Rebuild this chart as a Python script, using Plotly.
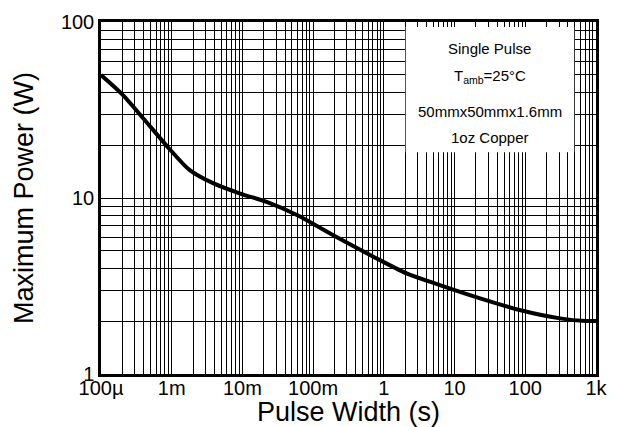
import plotly.graph_objects as go

# Data (pulse width in s, max power in W)
pulse_width = [1e-4, 2e-4, 4e-4, 8.5e-4, 1.8e-3, 3.9e-3, 9.3e-3, 2.2e-2,
               5.9e-2, 0.19, 0.71, 2.1, 6.2, 23, 83, 310, 720, 1000]
max_power = [50, 38.8, 28.2, 19.8, 14.4, 12.1, 10.6, 9.5,
             8.0, 6.16, 4.64, 3.73, 3.2, 2.69, 2.31, 2.07, 2.0, 2.0]

x_tickvals = [1e-4, 1e-3, 1e-2, 1e-1, 1, 10, 100, 1000]
x_ticktext = ["100µ", "1m", "10m", "100m", "1", "10", "100", "1k"]
y_tickvals = [1, 10, 100]
y_ticktext = ["1", "10", "100"]

note_lines = ["Single Pulse", "T<sub>amb</sub>=25°C", "50mmx50mmx1.6mm", "1oz Copper"]

FONT = "Liberation Sans, Arial, sans-serif"

fig = go.Figure()
fig.add_trace(go.Scatter(x=pulse_width, y=max_power, mode="lines",
                         line=dict(color="black", width=4, shape="spline", smoothing=0.8),
                         showlegend=False, hoverinfo="skip"))

axis_common = dict(
    type="log", showline=True, linecolor="black", linewidth=2.5, mirror=True,
    showgrid=True, gridcolor="black", gridwidth=1, ticks="", zeroline=False,
    tickfont=dict(family=FONT, size=20, color="black"),
    minor=dict(dtick="D1", showgrid=True, gridcolor="black", gridwidth=1, ticks=""),
)

fig.update_xaxes(**axis_common, range=[-4, 3], tickmode="array",
                 tickvals=x_tickvals, ticktext=x_ticktext, ticklabelstandoff=-6,
                 title=dict(text="Pulse Width (s)", font=dict(family=FONT, size=27, color="black"),
                            standoff=0))
fig.update_yaxes(**axis_common, range=[0, 2], tickmode="array",
                 tickvals=y_tickvals, ticktext=y_ticktext,
                 title=dict(text="Maximum Power (W)", font=dict(family=FONT, size=27, color="black"),
                            standoff=20))

# white note box
fig.add_shape(type="rect", xref="paper", yref="paper", x0=0.6155, x1=0.956, y0=0.630, y1=0.986,
              fillcolor="white", line=dict(width=0), layer="above")

note_y = [0.926, 0.844, 0.747, 0.673]
for txt, yy in zip(note_lines, note_y):
    fig.add_annotation(x=0.785, y=yy, xref="paper", yref="paper", text=txt, showarrow=False,
                       font=dict(family=FONT, size=15, color="black"), xanchor="center", yanchor="middle")

fig.update_layout(
    width=621, height=427,
    margin=dict(l=101, r=25, t=22, b=53, autoexpand=False),
    paper_bgcolor="white", plot_bgcolor="white",
)

fig.write_html("out.html", config={"displayModeBar": False},
               post_script="document.body.style.margin='0';document.body.style.overflow='hidden';")
